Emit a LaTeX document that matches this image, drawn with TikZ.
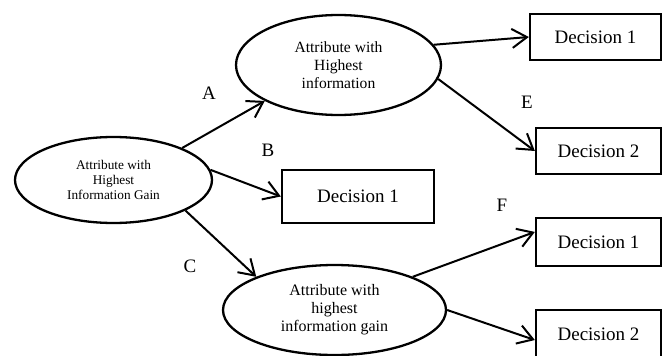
\documentclass[tikz,border=0pt]{standalone}
\usepackage{fontspec}
\setmainfont{Liberation Serif}
\usetikzlibrary{shapes.geometric,arrows.meta,calc}

\tikzset{every picture/.style={line width=2pt}}
\tikzset{
  attr/.style={draw,ellipse,line width=2.3pt,inner sep=0pt,align=center},
  decision/.style={draw,rectangle,line width=2.3pt,inner sep=0pt,font=\fontsize{19}{22}\selectfont},
  lbl/.style={inner sep=0pt,font=\fontsize{19}{22}\selectfont},
  arr/.style={-{Straight Barb[length=15pt,width=19pt]},line width=2pt}
}

\begin{document}
\begin{tikzpicture}[x=1pt,y=1pt,yscale=-1,xscale=1]
\useasboundingbox (0,0) rectangle (664,356);

%Shape: Ellipse [root]
\node [attr,minimum width=197,minimum height=86,font=\fontsize{13.3}{15}\selectfont] (root) at (113.5,180) {Attribute with\\Highest\\Information Gain};
%Shape: Ellipse [upper]
\node [attr,minimum width=205,minimum height=100,font=\fontsize{15.6}{18}\selectfont] (upper) at (338.5,65) {Attribute with\\Highest\\information};
%Shape: Ellipse [lower]
\node [attr,minimum width=223,minimum height=90,font=\fontsize{16}{18}\selectfont] (lower) at (334.5,310) {Attribute with\\highest\\information gain};

%Shape: Rectangle [decisions]
\node [decision,minimum width=131,minimum height=46] (upA) at (595.5,37) {Decision 1};
\node [decision,minimum width=125,minimum height=46] (upB) at (598.5,151) {Decision 2};
\node [decision,minimum width=152,minimum height=53] (mid) at (358,196.5) {Decision 1};
\node [decision,minimum width=125,minimum height=48] (lowA) at (598.5,242) {Decision 1};
\node [decision,minimum width=125,minimum height=48] (lowB) at (598.5,334) {Decision 2};

%Straight Lines [arrows]
\draw [arr] (root.25.5) -- (upper.206);
\draw [arr] (root.6.4) -- (mid.west);
\draw [arr] (root.-23.3) -- (lower.157);
\draw [arr] (upper.12.2) -- (upA.west);
\draw [arr] (upper.-8.8) -- (upB.west);
\draw [arr] (lower.23.3) -- ($(lowA.north west)!0.3!(lowA.south west)$);
\draw [arr] (lower.0) -- ($(lowB.north west)!0.62!(lowB.south west)$);

% Text Node
\node [lbl] (labA) at (209,93) {A};
% Text Node
\node [lbl] (labB) at (268,150) {B};
% Text Node
\node [lbl] (labC) at (190,266) {C};
% Text Node
\node [lbl] (labE) at (527,102) {E};
% Text Node
\node [lbl] (labF) at (502,205) {F};

\end{tikzpicture}
\end{document}
